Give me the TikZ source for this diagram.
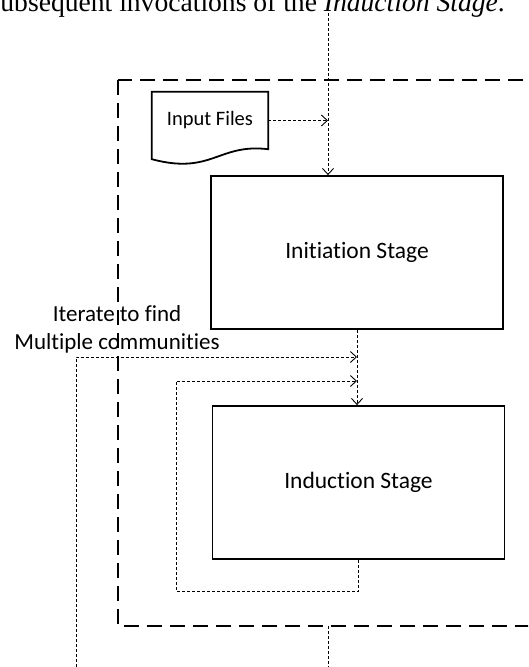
\documentclass[tikz,border=0pt]{standalone}
\usepackage{fontspec}
\setmainfont{Carlito}[Ligatures=CommonOff]
\newfontfamily\capfont{Liberation Serif}
\usetikzlibrary{positioning,arrows.meta,calc}

\tikzset{
  stagebox/.style={draw,line width=1.8pt,minimum width=292pt,minimum height=153pt,font=\fontsize{23.5}{28}\selectfont},
  flow/.style={line width=.9pt,dash pattern=on 3pt off 2pt},
  tip/.style={-{Straight Barb[length=6pt,width=11pt]}},
  frame/.style={line width=1.8pt,dash pattern=on 15pt off 8pt}
}

\begin{document}
\begin{tikzpicture}[x=1pt,y=-1pt]
\useasboundingbox (0,0) rectangle (528,667);
\clip (0,0) rectangle (528,667);
% caption line of the page, cut at the top
\node[anchor=base east,font=\capfont\fontsize{27.6}{30}\selectfont,inner sep=0pt] (cap) at (505,11) {Subsequent invocations of the \textit{Induction Stage}.};
% outer frame
\draw[frame] (118,80) rectangle (545,626);
\node[stagebox] (init) at (357,252.5) {Initiation Stage};
\node[stagebox] (induct) at (358.5,482.5) {Induction Stage};
\node[minimum width=116pt,minimum height=57pt,inner sep=0pt,font=\fontsize{20.5}{24}\selectfont] (input) at (210,120.5) {Input Files};
\draw[line width=1.8pt] (input.north west) -- (input.north east) -- (input.south east)
  .. controls ($(input.south east)+(-50,-6)$) and ($(input.south west)+(60,26)$) .. ($(input.south west)+(0,10)$) -- cycle;
\node[align=center,font=\fontsize{23}{28}\selectfont] (iter) at (117,329) {Iterate to find\\Multiple communities};
\coordinate (topin) at (328,13);
\coordinate (framebot) at (328,626);
\coordinate (botout) at (328,667);
\coordinate (iterbot) at (76,667);
\coordinate (j1) at (357,357);
\coordinate (j2) at (357,381);
\coordinate (loopc) at (176,591);
% connectors
\draw[flow,tip] (topin) -- (topin |- init.north);
\draw[flow,tip] (input.east) -- (input.east -| topin);
\draw[flow,tip] (init.south) -- (init.south |- induct.north);
\draw[flow,tip] (iterbot) |- (j1);
\draw[flow,tip] (induct.south) |- (loopc) |- (j2);
\draw[flow] (framebot) -- (botout);
\end{tikzpicture}
\end{document}
